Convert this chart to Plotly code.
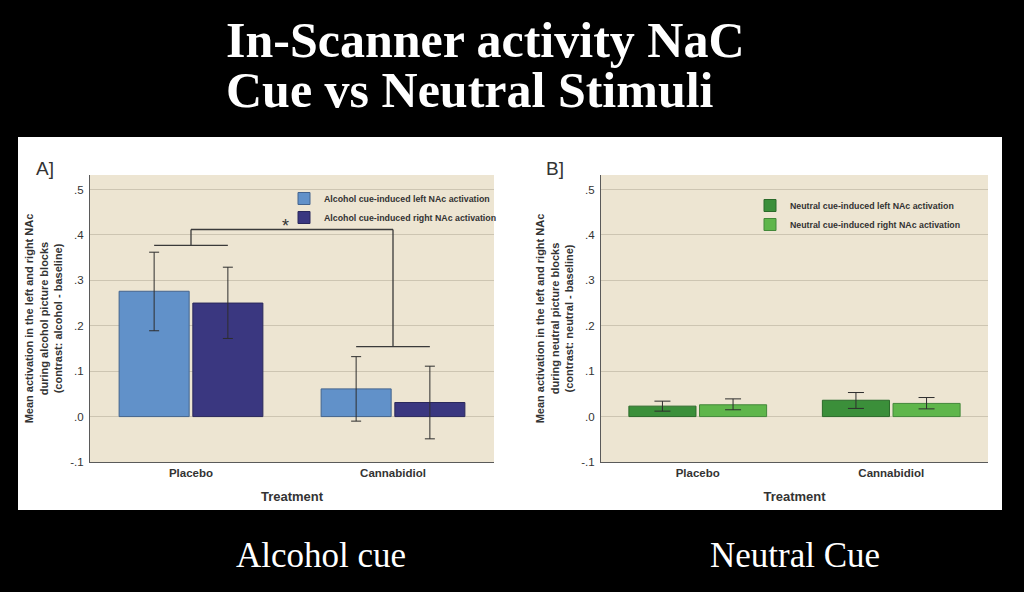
import plotly.graph_objects as go

W, H = 1024, 592

# ---------------- data ----------------
treatments = ["Placebo", "Cannabidiol"]

alcohol_left = [0.276, 0.061]
alcohol_left_hi = [0.362, 0.132]
alcohol_left_lo = [0.189, -0.010]
alcohol_right = [0.250, 0.031]
alcohol_right_hi = [0.329, 0.111]
alcohol_right_lo = [0.172, -0.049]

neutral_left = [0.023, 0.036]
neutral_left_hi = [0.034, 0.053]
neutral_left_lo = [0.012, 0.018]
neutral_right = [0.026, 0.029]
neutral_right_hi = [0.039, 0.042]
neutral_right_lo = [0.015, 0.017]

alcohol_names = ["Alcohol cue-induced left NAc activation",
                 "Alcohol cue-induced right NAc activation"]
neutral_names = ["Neutral cue-induced left NAc activation",
                 "Neutral cue-induced right NAc activation"]

ytick_vals = [-0.1, 0.0, 0.1, 0.2, 0.3, 0.4, 0.5]
ytick_text = ["-.1", ".0", ".1", ".2", ".3", ".4", ".5"]

# significance bracket levels (data units)
bracket_placebo = 0.377
bracket_cbd = 0.154
bracket_top = 0.412
sig_label = "*"

title_lines = ["In-Scanner activity NaC", "Cue vs Neutral Stimuli"]
captions = ["Alcohol cue", "Neutral Cue"]
ytitle_A = "Mean activation in the left and right NAc<br>during alcohol picture blocks<br>(contrast: alcohol - baseline)"
ytitle_B = "Mean activation in the left and right NAc<br>during neutral picture blocks<br>(contrast: neutral - baseline)"

# ---------------- style ----------------
BEIGE = "#ede5d2"
GRID = "#cdc5b2"
AXIS = "#5a5a5a"
TXT = "#333333"
C_AL = "#6191c9"
C_AR = "#3a3780"
C_NL = "#3b8f3a"
C_NR = "#5fb64b"
BARGAP = 0.27
GROUPGAP = 0.05
FONT = "Arial, Liberation Sans"

def px(x):
    return x / W

def py(y):
    return 1 - y / H

def err(v, hi, lo, capw):
    return dict(type="data", symmetric=False,
                array=[h - a for a, h in zip(v, hi)],
                arrayminus=[a - l for a, l in zip(v, lo)],
                color="#2e2e2e", thickness=1, width=capw)

fig = go.Figure()

def add_bar(name, vals, hi, lo, color, line, xa, ya, legend, capw):
    fig.add_trace(go.Bar(x=treatments, y=vals, name=name, xaxis=xa, yaxis=ya,
                         legend=legend,
                         marker=dict(color=color, line=dict(color=line, width=1)),
                         error_y=err(vals, hi, lo, capw)))

add_bar(alcohol_names[0], alcohol_left, alcohol_left_hi, alcohol_left_lo, C_AL, "#44648e", "x", "y", "legend", 5)
add_bar(alcohol_names[1], alcohol_right, alcohol_right_hi, alcohol_right_lo, C_AR, "#2a285c", "x", "y", "legend", 5)
add_bar(neutral_names[0], neutral_left, neutral_left_hi, neutral_left_lo, C_NL, "#2b6a2a", "x2", "y2", "legend2", 8)
add_bar(neutral_names[1], neutral_right, neutral_right_hi, neutral_right_lo, C_NR, "#43883a", "x2", "y2", "legend2", 8)

XDOM_A = [px(90), px(494)]
XDOM_B = [px(601), px(988)]
YDOM = [py(462), py(175)]

yaxis_common = dict(range=[-0.1, 0.532], tickvals=ytick_vals, ticktext=ytick_text,
                    showgrid=True, gridcolor=GRID, gridwidth=1, zeroline=False,
                    showline=True, linecolor=AXIS, linewidth=1, ticks="",
                    ticklabelstandoff=3, automargin=False,
                    tickfont=dict(family=FONT, size=11.5, color=TXT),
                    domain=YDOM, fixedrange=True)
xaxis_common = dict(type="category", range=[-0.5, 1.5], showgrid=False, zeroline=False,
                    showline=True, linecolor=AXIS, linewidth=1, ticks="",
                    ticklabelstandoff=0, automargin=False,
                    tickfont=dict(family=FONT, size=11.5, color=TXT, weight="bold"),
                    title=dict(text="Treatment", standoff=14,
                               font=dict(family=FONT, size=13, color=TXT, weight="bold")),
                    fixedrange=True)
ytitle_font = dict(family=FONT, size=11, color=TXT, weight="bold")
legend_font = dict(family=FONT, size=8.8, color=TXT, weight="bold")

fig.update_layout(
    width=W, height=H, margin=dict(l=0, r=0, t=0, b=0, autoexpand=False),
    paper_bgcolor="black", plot_bgcolor=BEIGE,
    barmode="group", bargap=BARGAP, bargroupgap=GROUPGAP,
    xaxis=dict(xaxis_common, domain=XDOM_A, anchor="y"),
    yaxis=dict(yaxis_common, anchor="x", title=dict(text=ytitle_A, font=ytitle_font, standoff=5)),
    xaxis2=dict(xaxis_common, domain=XDOM_B, anchor="y2"),
    yaxis2=dict(yaxis_common, anchor="x2", title=dict(text=ytitle_B, font=ytitle_font, standoff=5)),
    legend=dict(x=px(284), y=py(184), xanchor="left", yanchor="top",
                bgcolor="rgba(0,0,0,0)", font=legend_font,
                tracegroupgap=0, itemwidth=30),
    legend2=dict(x=px(750), y=py(191), xanchor="left", yanchor="top",
                 bgcolor="rgba(0,0,0,0)", font=legend_font,
                 tracegroupgap=0, itemwidth=30),
    showlegend=True,
)

# white figure panel behind both charts, then beige plot areas
fig.add_shape(type="rect", xref="paper", yref="paper",
              x0=px(18), x1=px(1002), y0=py(510), y1=py(137),
              fillcolor="white", line=dict(width=0), layer="below")
for dom in (XDOM_A, XDOM_B):
    fig.add_shape(type="rect", xref="paper", yref="paper",
                  x0=dom[0], x1=dom[1], y0=YDOM[0], y1=YDOM[1],
                  fillcolor=BEIGE, line=dict(width=0), layer="below")

# significance bracket
half = (1 - BARGAP) / 4
line_style = dict(color="#3a3a3a", width=1.3)
for cx, lvl in [(0, bracket_placebo), (1, bracket_cbd)]:
    fig.add_shape(type="line", xref="x", yref="y", x0=cx - half, x1=cx + half,
                  y0=lvl, y1=lvl, line=line_style)
    fig.add_shape(type="line", xref="x", yref="y", x0=cx, x1=cx,
                  y0=lvl, y1=bracket_top, line=line_style)
fig.add_shape(type="line", xref="x", yref="y", x0=0, x1=1,
              y0=bracket_top, y1=bracket_top, line=line_style)
fig.add_annotation(x=0.47, y=bracket_top, xref="x", yref="y", text=sig_label,
                   showarrow=False, yanchor="bottom", yshift=-9,
                   font=dict(family=FONT, size=18, color=TXT))

# panel letters
for lab, x in [("A]", 45), ("B]", 555)]:
    fig.add_annotation(x=px(x), y=py(168), xref="paper", yref="paper", text=lab,
                       showarrow=False, xanchor="center", yanchor="middle",
                       font=dict(family=FONT, size=19, color=TXT))

# title
for txt, yc in zip(title_lines, [40, 90]):
    fig.add_annotation(x=px(224), y=py(yc), xref="paper", yref="paper", text="<b>" + txt + "</b>",
                       showarrow=False, xanchor="left", yanchor="middle",
                       font=dict(family="Liberation Serif, DejaVu Serif", size=50, color="white"))

# captions
for txt, xc in zip(captions, [321, 795]):
    fig.add_annotation(x=px(xc), y=py(555), xref="paper", yref="paper", text=txt,
                       showarrow=False, xanchor="center", yanchor="middle",
                       font=dict(family="Liberation Serif, DejaVu Serif", size=35, color="white"))

fig.write_html("out.html", config={"displayModeBar": False},
               post_script="document.body.style.margin='0';")
